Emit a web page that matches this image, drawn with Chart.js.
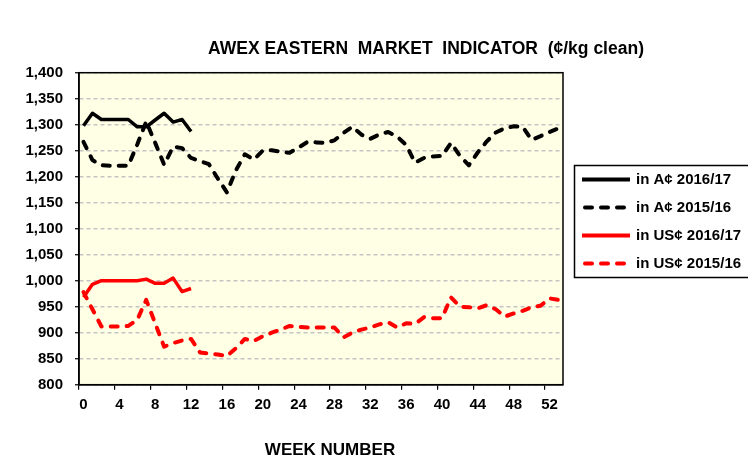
<!DOCTYPE html>
<html>
<head>
<meta charset="utf-8">
<script src="https://cdn.jsdelivr.net/npm/chart.js@4"></script>
<style>
  html, body { margin: 0; padding: 0; background: #fff; }
  #wrap { position: relative; width: 748px; height: 456px; }
</style>
</head>
<body>
<div id="wrap"><canvas id="c" width="748" height="456"></canvas></div>
<script>
// ---- Data ----
const chartTitle = 'AWEX EASTERN  MARKET  INDICATOR  (¢/kg clean)';
const xAxisTitle = 'WEEK NUMBER';
const weeks = ['0','1','2','3','4','5','6','7','8','9','10','11','12','13','14','15','16','17','18','19','20','21','22','23','24','25','26','27','28','29','30','31','32','33','34','35','36','37','38','39','40','41','42','43','44','45','46','47','48','49','50','51','52','53'];
const seriesNames = ['in A¢ 2016/17', 'in A¢ 2015/16', 'in US¢ 2016/17', 'in US¢ 2015/16'];
const aud1617 = [1298,1322,1310,1310,1310,1310,1296,1296,1309,1322,1305,1310,1287,
  null,null,null,null,null,null,null,null,null,null,null,null,null,null,null,null,null,null,null,null,null,null,null,null,null,null,null,null,null,null,null,null,null,null,null,null,null,null,null,null,null];
const aud1516 = [1267,1232,1222,1221,1221,1221,1262,1306,1265,1223,1258,1255,1236,1230,1224,1196,1170,1212,1243,1233,1250,1251,1248,1246,1256,1267,1266,1265,1270,1284,1296,1281,1273,1281,1286,1277,1261,1227,1236,1239,1240,1265,1240,1222,1247,1268,1285,1293,1297,1296,1271,1278,1286,1293];
const usd1617 = [968,993,1000,1000,1000,1000,1000,1003,995,995,1005,979,985,
  null,null,null,null,null,null,null,null,null,null,null,null,null,null,null,null,null,null,null,null,null,null,null,null,null,null,null,null,null,null,null,null,null,null,null,null,null,null,null,null,null];
const usd1516 = [978,945,912,912,912,913,925,963,918,873,880,885,888,862,860,858,855,870,888,884,893,900,906,913,911,910,910,910,910,891,900,906,910,916,920,910,918,917,930,928,928,968,950,949,947,953,945,931,937,942,949,952,966,963];

const FONT = "'Liberation Sans', Arial, Helvetica, sans-serif";

// ---- Plugins ----
const plotBg = {
  id: 'plotBg',
  beforeDraw(chart) {
    const { ctx, chartArea: a } = chart;
    ctx.save();
    ctx.fillStyle = '#FFFFE5';
    ctx.fillRect(a.left, a.top, a.right - a.left, a.bottom - a.top);
    ctx.restore();
  },
  afterDatasetsDraw(chart) {
    const { ctx, chartArea: a } = chart;
    ctx.save();
    ctx.strokeStyle = '#000';
    ctx.lineWidth = 1.5;
    ctx.setLineDash([]);
    ctx.strokeRect(a.left, a.top, a.right - a.left, a.bottom - a.top);
    ctx.restore();
  }
};

const texts = {
  id: 'texts',
  afterDraw(chart) {
    const { ctx } = chart;
    ctx.save();
    ctx.fillStyle = '#000';
    ctx.textAlign = 'center';
    ctx.textBaseline = 'alphabetic';
    ctx.font = 'bold 17.5px ' + FONT;
    ctx.fillText(chartTitle, 426, 53.5);
    ctx.font = 'bold 17px ' + FONT;
    ctx.fillText(xAxisTitle, 330, 455);
    ctx.restore();
  }
};

const boxLegend = {
  id: 'boxLegend',
  afterDraw(chart) {
    const { ctx } = chart;
    ctx.save();
    ctx.fillStyle = '#fff';
    ctx.strokeStyle = '#000';
    ctx.lineWidth = 1.5;
    ctx.fillRect(574.5, 165.5, 200, 112);
    ctx.strokeRect(574.5, 165.5, 200, 112);
    chart.data.datasets.forEach((ds, i) => {
      const y = 179.5 + i * 28;
      ctx.beginPath();
      ctx.strokeStyle = ds.borderColor;
      ctx.lineWidth = 4;
      ctx.lineCap = ds.borderDash.length ? 'round' : 'butt';
      ctx.setLineDash(ds.borderDash);
      ctx.moveTo(ds.borderDash.length ? 585 : 582, y);
      ctx.lineTo(630, y);
      ctx.stroke();
      ctx.setLineDash([]);
      ctx.fillStyle = '#000';
      ctx.font = 'bold 15px ' + FONT;
      ctx.textAlign = 'left';
      ctx.textBaseline = 'middle';
      ctx.fillText(ds.label, 636, y + 0.5);
    });
    ctx.restore();
  }
};

const fmt = v => v.toString().replace(/\B(?=(\d{3})+(?!\d))/g, ',');

new Chart(document.getElementById('c'), {
  type: 'line',
  data: {
    labels: weeks,
    datasets: [
      { label: seriesNames[0], data: aud1617, borderColor: '#000000', borderWidth: 3.5, borderDash: [] },
      { label: seriesNames[1], data: aud1516, borderColor: '#000000', borderWidth: 4, borderDash: [7, 9], borderCapStyle: 'round' },
      { label: seriesNames[2], data: usd1617, borderColor: '#FF0000', borderWidth: 3.5, borderDash: [] },
      { label: seriesNames[3], data: usd1516, borderColor: '#FF0000', borderWidth: 4, borderDash: [7, 9], borderCapStyle: 'round' }
    ]
  },
  options: {
    responsive: false,
    animation: false,
    spanGaps: false,
    elements: { point: { radius: 0 }, line: { tension: 0, fill: false, borderJoinStyle: 'round' } },
    layout: { padding: { left: 0, right: 185, top: 72.7, bottom: 0 } },
    plugins: { legend: { display: false }, title: { display: false }, tooltip: { enabled: false } },
    scales: {
      x: {
        type: 'category',
        offset: true,
        afterFit(s) { s.height = 456 - 384.7; },
        border: { display: true, color: '#000', width: 1.5 },
        grid: {
          offset: true,
          drawOnChartArea: false,
          drawTicks: true,
          tickLength: 5,
          color: ctx => (ctx.index % 4 === 0 ? '#000' : 'rgba(0,0,0,0)'),
          lineWidth: 1.2
        },
        ticks: {
          autoSkip: false,
          maxRotation: 0,
          padding: 6,
          color: '#000',
          font: { family: FONT, size: 15, weight: 'bold' },
          callback(v, i) { return i % 4 === 0 ? this.getLabelForValue(v) : ''; }
        }
      },
      y: {
        min: 800,
        max: 1400,
        afterFit(s) { s.width = 79; },
        border: { display: true, color: '#000', width: 1.5, dash: [4, 3] },
        grid: {
          color: '#C4C4C4',
          lineWidth: 1.5,
          drawTicks: true,
          tickLength: 4,
          tickColor: '#000',
          tickWidth: 1.2,
          tickBorderDash: []
        },
        ticks: {
          stepSize: 50,
          padding: 12,
          color: '#000',
          font: { family: FONT, size: 15, weight: 'bold' },
          callback: v => fmt(v)
        }
      }
    }
  },
  plugins: [plotBg, texts, boxLegend]
});
</script>
</body>
</html>
